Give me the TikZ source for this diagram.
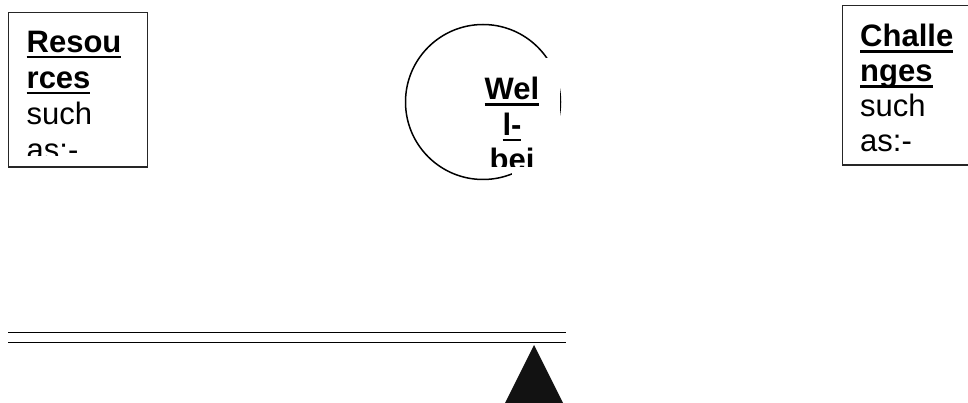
\documentclass[tikz,border=0pt]{standalone}
\usepackage{fontspec}
\setmainfont{Liberation Sans}
\newcommand\ulbox[1]{\setbox0\hbox{#1}\rlap{\rule[-5.8pt]{\wd0}{2.7pt}}\box0}
\newcommand\txtfont{\fontsize{31}{35}\selectfont\lineskiplimit=-100pt\relax}
\newcommand\leftfont{\fontsize{31}{36}\selectfont\lineskiplimit=-100pt\relax}
\newcommand\circfont{\fontsize{31}{35.5}\selectfont\lineskiplimit=-100pt\relax}
\begin{document}
\begin{tikzpicture}[x=1pt,y=-1pt,
  frame/.style={draw=black!85, line width=1.2pt, fill=white, inner sep=0pt},
  txt/.style={anchor=base west, inner sep=0pt},
  beam/.style={line width=1.2pt}]
\clip (0,0) rectangle (968,403);
\fill[white] (0,0) rectangle (968,403);

% left box: Resources
\node[frame, anchor=north west, minimum width=139.5pt, minimum height=154.5pt] (res) at (7.5,12) {};
\begin{scope}
\clip (8,12) rectangle (147,156);
\node[txt, font=\leftfont] (resT) at (26.5,52.5) {\parbox[t]{115pt}{\raggedright\leftfont\textbf{\ulbox{Resou}}\\\textbf{\ulbox{rces}}\\such\\as:-}};
\end{scope}

% circle: Well-being
\node[draw, circle, line width=1.5pt, minimum size=155pt, inner sep=0pt] (wb) at (483,102) {};
\fill[white] (512,58) rectangle (559.5,185);
\begin{scope}
\clip (470,60) rectangle (560,167);
\node[anchor=base, inner sep=0pt, font=\circfont] (wbT) at (512,100) {\parbox[t]{90pt}{\centering\circfont\textbf{\ulbox{Wel}}\\\textbf{\ulbox{l-}}\\\textbf{bei}}};
\end{scope}

% right box: Challenges
\node[frame, anchor=north west, minimum width=140pt, minimum height=159.5pt] (chal) at (841.5,5) {};
\node[txt, font=\txtfont] (chalT) at (860,47) {\parbox[t]{105pt}{\raggedright\txtfont\textbf{\ulbox{Challe}}\\\textbf{\ulbox{nges}}\\such\\as:-}};

% seesaw beam
\coordinate (b1l) at (8,332.5);
\coordinate (b1r) at (566,332.5);
\coordinate (b2l) at (8,342.3);
\coordinate (b2r) at (566,342.3);
\draw[beam] (b1l) -- (b1r);
\draw[beam] (b2l) -- (b2r);

% fulcrum
\coordinate (apex) at (534,345);
\fill[black!93] (apex) -- (569,415) -- (499,415) -- cycle;
\end{tikzpicture}
\end{document}
